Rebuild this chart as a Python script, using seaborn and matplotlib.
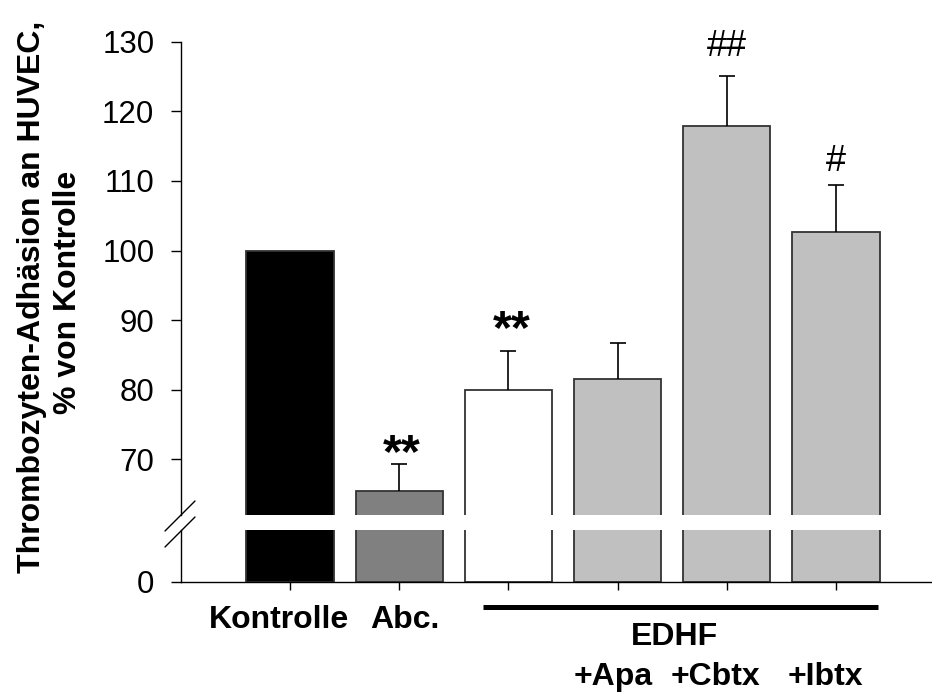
import matplotlib
matplotlib.use("Agg")
import matplotlib.pyplot as plt
import matplotlib.transforms as mtransforms
from matplotlib.lines import Line2D
import numpy as np
import pandas as pd
import seaborn as sns

# Platelet adhesion to HUVEC, % of control
groups = ["Kontrolle", "Abc.", "EDHF", "EDHF+Apa", "EDHF+Cbtx", "EDHF+Ibtx"]
tick_labels = ["Kontrolle", "Abc.", "", "+Apa", "+Cbtx", "+Ibtx"]
adhesion = [100.0, 65.5, 80.0, 81.6, 117.9, 102.6]
sem = [0.0, 3.8, 5.5, 5.1, 7.2, 6.8]
marks = ["", "**", "**", "", "##", "#"]
bar_colors = ["#000000", "#808080", "#ffffff", "#c0c0c0", "#c0c0c0", "#c0c0c0"]
upper_ticks = [70, 80, 90, 100, 110, 120, 130]
lower_ticks = [0]

W, H, DPI = 932, 693, 100
PT = 72.0 / DPI  # points per pixel

sns.set_style("ticks")
plt.rcParams["font.family"] = ["Liberation Sans", "DejaVu Sans"]
plt.rcParams.update({
    "axes.linewidth": 1.0,
    "text.color": "black",
    "axes.labelcolor": "black",
    "xtick.color": "black",
    "ytick.color": "black",
    "axes.edgecolor": "black",
})

fig = plt.figure(figsize=(W / DPI, H / DPI), dpi=DPI)


def fx(px):
    return px / W


def fy(py):
    return 1 - py / H


# broken y axis: upper panel 62..130, lower panel from 0
x0, x1 = 181, 932
ax_top = fig.add_axes([fx(x0), fy(515), (x1 - x0) / W, (515 - 41.7) / H])
ax_bot = fig.add_axes([fx(x0), fy(581.7), (x1 - x0) / W, (581.7 - 530) / H])

df = pd.DataFrame({"group": groups, "adhesion": adhesion})
for ax in (ax_top, ax_bot):
    sns.barplot(data=df, x="group", y="adhesion", hue="group", order=groups,
                hue_order=groups, palette=bar_colors, legend=False, width=0.8,
                edgecolor="#333333", linewidth=1.3, errorbar=None, ax=ax)
    ax.set_xlim(-1, 5.88)
    ax.set_xlabel("")
    ax.set_ylabel("")
    for side in ("top", "right"):
        ax.spines[side].set_visible(False)
    for sp in ax.spines.values():
        sp.set_color("black")
        sp.set_linewidth(1.0)
    ax.tick_params(axis="y", direction="out", length=10 * PT, width=1.0,
                   labelsize=22.5, pad=12, colors="black")

# upper panel
ax_top.spines["bottom"].set_visible(False)
ax_top.set_ylim(62, 130)
ax_top.set_yticks(upper_ticks)
ax_top.tick_params(axis="x", bottom=False, labelbottom=False)

# one-sided SEM bars (upper whisker only)
idx = [i for i, e in enumerate(sem) if e > 0]
tops = [adhesion[i] for i in idx]
_, caplines, _ = ax_top.errorbar(idx, tops,
                                 yerr=[[0] * len(idx), [sem[i] for i in idx]],
                                 fmt="none", ecolor="black", elinewidth=1.2,
                                 capsize=6, capthick=1.2, zorder=5)
for cl in caplines:
    if np.allclose(cl.get_ydata(), tops):
        cl.set_visible(False)

# significance marks above the error bars
mark_offsets = [0, -2, 6, 0, 14, 10]
for i, m in enumerate(marks):
    if not m:
        continue
    star = m.startswith("*")
    ax_top.annotate(m, xy=(i, adhesion[i] + sem[i]), xytext=(2 if star else 0, mark_offsets[i]),
                    textcoords="offset points", ha="center", va="baseline",
                    fontsize=35 if star else 26,
                    fontweight="bold" if star else "normal",
                    annotation_clip=False)

# lower panel
ax_bot.set_ylim(0, 10)
ax_bot.set_yticks(lower_ticks)
ax_bot.set_xticks(range(len(groups)))
ax_bot.set_xticklabels(tick_labels, fontsize=23, fontweight="bold")
ax_bot.tick_params(axis="x", direction="out", length=8 * PT, width=1.0, colors="black")

label_shift_px = [-11, 6, 0, -4, -11, -11]
label_pad_pt = [10.8, 10.8, 10.8, 51.8, 51.8, 51.8]
for tick, pad in zip(ax_bot.xaxis.get_major_ticks(), label_pad_pt):
    tick.set_pad(pad)
for lab, dx in zip(ax_bot.get_xticklabels(), label_shift_px):
    lab.set_transform(lab.get_transform() +
                      mtransforms.ScaledTranslation(dx / DPI, 0, fig.dpi_scale_trans))

# EDHF bracket under the four EDHF groups
blend = mtransforms.blended_transform_factory(ax_bot.transData, fig.transFigure)
fig.add_artist(Line2D([2 - 0.23, 5 + 0.385], [fy(607), fy(607)], transform=blend,
                      color="black", linewidth=5 * PT, solid_capstyle="butt"))
fig.text(3.52, fy(645), "EDHF", transform=blend, ha="center", va="baseline",
         fontsize=23, fontweight="bold")

# axis-break slashes
for (xa, ya, xb, yb) in [(165, 531, 195, 501), (165, 547, 195, 517)]:
    fig.add_artist(Line2D([fx(xa), fx(xb)], [fy(ya), fy(yb)],
                          transform=fig.transFigure, color="black", linewidth=1.0))

# y-axis title (two lines)
fig.text(fx(32), fy(297), "Thrombozyten-Adhäsion an HUVEC,", rotation=90,
         ha="center", va="center", fontsize=23, fontweight="bold")
fig.text(fx(68), fy(292), "% von Kontrolle", rotation=90,
         ha="center", va="center", fontsize=23, fontweight="bold")

fig.savefig("out.png", dpi=DPI)
